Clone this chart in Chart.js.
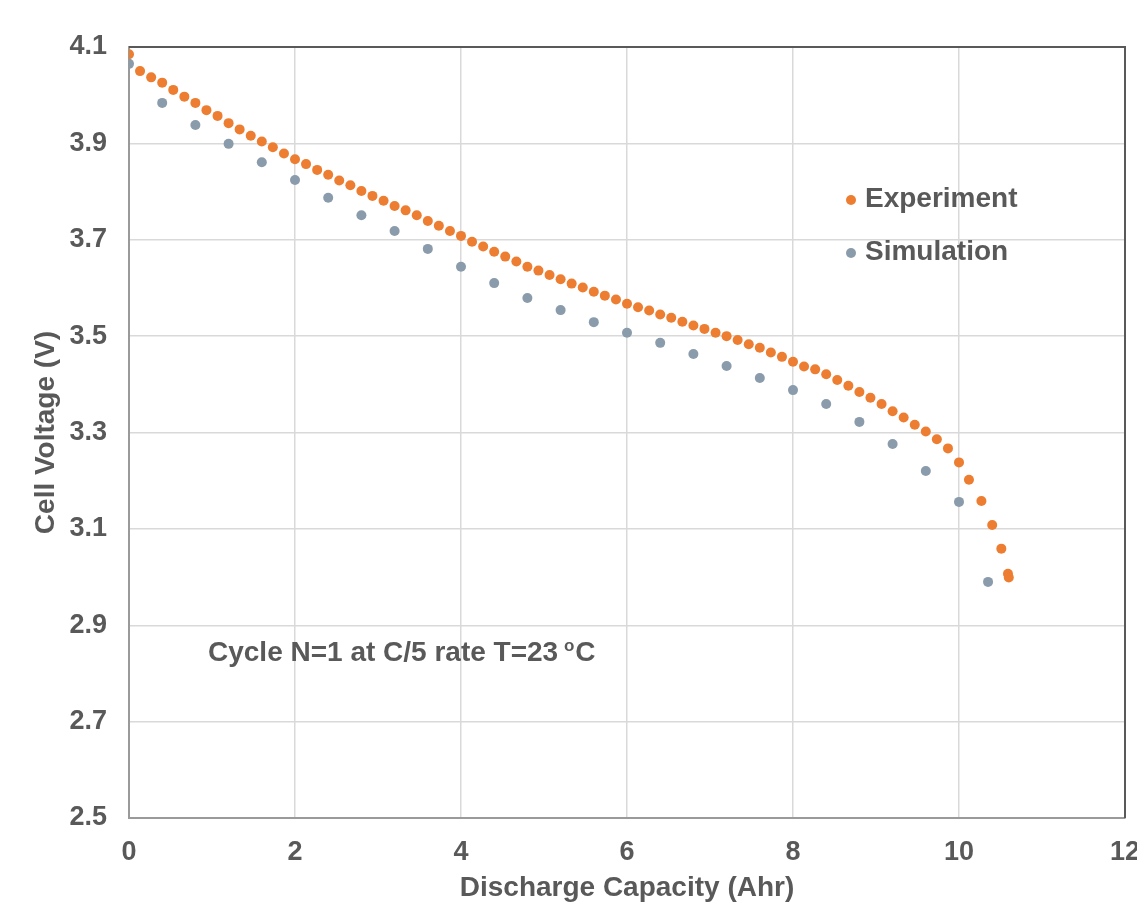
<!DOCTYPE html>
<html>
<head>
<meta charset="utf-8">
<script src="https://cdn.jsdelivr.net/npm/chart.js@4.4.0/dist/chart.umd.min.js"></script>
<style>
  html, body { margin: 0; padding: 0; background: #fff; }
  #wrap { width: 1137px; height: 907px; }
</style>
</head>
<body>
<div id="wrap"><canvas id="chart" width="1137" height="907"></canvas></div>
<script>
// discharge capacity (Ahr) / cell voltage (V)
const expCapacity = [
  0, 0.133, 0.267, 0.4, 0.533, 0.667, 0.8, 0.933, 1.067, 1.2,
  1.333, 1.467, 1.6, 1.733, 1.867, 2.0, 2.133, 2.267, 2.4, 2.533,
  2.667, 2.8, 2.933, 3.067, 3.2, 3.333, 3.467, 3.6, 3.733, 3.867,
  4.0, 4.133, 4.267, 4.4, 4.533, 4.667, 4.8, 4.933, 5.067, 5.2,
  5.333, 5.467, 5.6, 5.733, 5.867, 6.0, 6.133, 6.267, 6.4, 6.533,
  6.667, 6.8, 6.933, 7.067, 7.2, 7.333, 7.467, 7.6, 7.733, 7.867,
  8.0, 8.133, 8.267, 8.4, 8.533, 8.667, 8.8, 8.933, 9.067, 9.2,
  9.333, 9.467, 9.6, 9.733, 9.867, 10.0, 10.12, 10.27, 10.4, 10.51,
  10.59, 10.6
];
const expVoltage = [
  4.085, 4.050, 4.037, 4.026, 4.011, 3.997, 3.984, 3.969, 3.957, 3.942,
  3.929, 3.916, 3.904, 3.892, 3.879, 3.867, 3.857, 3.845, 3.835, 3.823,
  3.813, 3.801, 3.791, 3.781, 3.770, 3.761, 3.751, 3.739, 3.729, 3.718,
  3.708, 3.696, 3.686, 3.675, 3.665, 3.655, 3.644, 3.636, 3.627, 3.618,
  3.609, 3.601, 3.592, 3.584, 3.576, 3.567, 3.560, 3.553, 3.545, 3.538,
  3.530, 3.522, 3.515, 3.507, 3.500, 3.492, 3.483, 3.476, 3.466, 3.457,
  3.447, 3.437, 3.431, 3.421, 3.409, 3.397, 3.384, 3.372, 3.359, 3.344,
  3.331, 3.316, 3.302, 3.286, 3.267, 3.238, 3.202, 3.158, 3.108, 3.059,
  3.007, 2.999
];
const simCapacity = [
  0, 0.4, 0.8, 1.2, 1.6, 2.0, 2.4, 2.8, 3.2, 3.6,
  4.0, 4.4, 4.8, 5.2, 5.6, 6.0, 6.4, 6.8, 7.2, 7.6,
  8.0, 8.4, 8.8, 9.2, 9.6, 10.0, 10.35
];
const simVoltage = [
  4.065, 3.984, 3.938, 3.899, 3.861, 3.824, 3.787, 3.751, 3.718, 3.681,
  3.644, 3.610, 3.579, 3.554, 3.529, 3.507, 3.486, 3.463, 3.438, 3.413,
  3.388, 3.359, 3.322, 3.276, 3.220, 3.156, 2.990
];
const seriesNames = ["Experiment", "Simulation"];
const xTicks = [0, 2, 4, 6, 8, 10, 12];
const yTicks = [2.5, 2.7, 2.9, 3.1, 3.3, 3.5, 3.7, 3.9, 4.1];
const noteText = "Cycle N=1 at C/5 rate T=23";

const FONT = "'Liberation Sans', Arial, sans-serif";
const TEXT = "#595959";

function toPoints(xs, ys)
{
  return xs.map((x, i) => ({ x: x, y: ys[i] }));
}

// frame, legend and note drawn on top of the plot
const overlay = {
  id: "overlay",
  afterDraw(chart)
  {
    const ctx = chart.ctx;
    const a = chart.chartArea;
    ctx.save();

    // top + right frame lines are darker than the axes
    ctx.strokeStyle = "#595959";
    ctx.lineWidth = 2;
    ctx.beginPath();
    ctx.moveTo(a.left, a.top);
    ctx.lineTo(a.right, a.top);
    ctx.lineTo(a.right, a.bottom);
    ctx.stroke();

    // legend inside the plot
    ctx.font = "bold 28px " + FONT;
    ctx.textBaseline = "middle";
    chart.data.datasets.forEach((ds, i) => {
      const ly = a.top + 152 + i * 53;
      ctx.fillStyle = ds.backgroundColor;
      ctx.beginPath();
      ctx.arc(a.left + 722, ly + 1, 5, 0, Math.PI * 2);
      ctx.fill();
      ctx.fillStyle = TEXT;
      ctx.fillText(ds.label, a.left + 736, ly);
    });

    // run conditions note
    const nx = a.left + 79, ny = a.top + 606;
    ctx.fillText(noteText, nx, ny);
    let w = ctx.measureText(noteText + " ").width;
    ctx.font = "bold 17px " + FONT;
    ctx.fillText("o", nx + w - 2, ny - 7);
    w += ctx.measureText("o").width;
    ctx.font = "bold 28px " + FONT;
    ctx.fillText("C", nx + w - 1, ny);

    ctx.restore();
  }
};

new Chart(document.getElementById("chart"), {
  type: "scatter",
  data: {
    datasets: [
      {
        label: seriesNames[0],
        data: toPoints(expCapacity, expVoltage),
        backgroundColor: "#ed7d31",
        borderWidth: 0,
        pointRadius: 5
      },
      {
        label: seriesNames[1],
        data: toPoints(simCapacity, simVoltage),
        backgroundColor: "#8a9bab",
        borderWidth: 0,
        pointRadius: 5
      }
    ]
  },
  options: {
    responsive: false,
    animation: false,
    layout: { padding: { top: 47, right: 12, left: 0, bottom: 0 } },
    plugins: {
      legend: { display: false },
      tooltip: { enabled: false }
    },
    scales: {
      x: {
        type: "linear",
        min: xTicks[0],
        max: xTicks[xTicks.length - 1],
        afterBuildTicks: (s) => { s.ticks = xTicks.map(v => ({ value: v })); },
        afterFit: (s) => { s.height = 89; s.paddingLeft = 0; s.paddingRight = 0; },
        grid: { color: "#d9d9d9", lineWidth: 1.5, drawTicks: false },
        border: { color: "#9a9a9a", width: 2 },
        ticks: {
          color: TEXT,
          padding: 18,
          font: { family: FONT, size: 27, weight: "bold" },
          callback: (v) => String(v)
        },
        title: {
          display: true,
          text: "Discharge Capacity (Ahr)",
          color: TEXT,
          padding: { top: 0, bottom: 2 },
          font: { family: FONT, size: 28, weight: "bold" }
        }
      },
      y: {
        type: "linear",
        min: yTicks[0],
        max: yTicks[yTicks.length - 1],
        afterBuildTicks: (s) => { s.ticks = yTicks.map(v => ({ value: v })); },
        afterFit: (s) => { s.width = 129; },
        grid: { color: "#d9d9d9", lineWidth: 1.5, drawTicks: false },
        border: { color: "#9a9a9a", width: 2 },
        ticks: {
          color: TEXT,
          padding: 22,
          font: { family: FONT, size: 27, weight: "bold" },
          callback: (v) => v.toFixed(1)
        },
        title: {
          display: true,
          text: "Cell Voltage (V)",
          color: TEXT,
          padding: { top: 29, bottom: 0 },
          font: { family: FONT, size: 28, weight: "bold" }
        }
      }
    }
  },
  plugins: [overlay]
});
</script>
</body>
</html>
